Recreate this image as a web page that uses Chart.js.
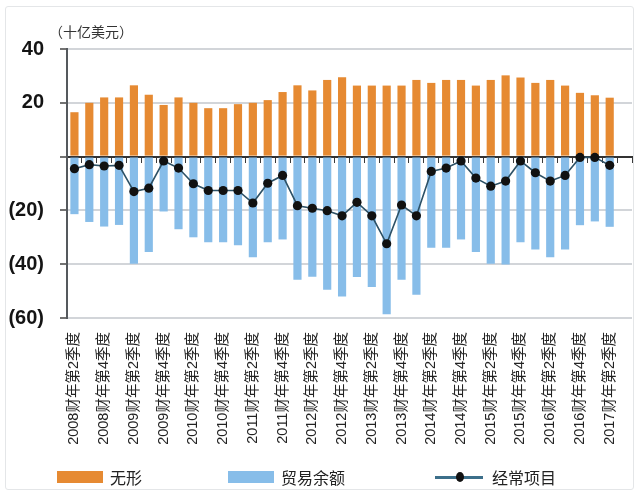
<!DOCTYPE html>
<html>
<head>
<meta charset="utf-8">
<script src="https://cdn.jsdelivr.net/npm/chart.js@4.4.1/dist/chart.umd.min.js"></script>
<style>
  html, body { margin: 0; padding: 0; background: #fff; }
  #wrap { position: relative; width: 638px; height: 496px; overflow: hidden; }
  #frame { position: absolute; left: 5px; top: 6px; width: 629px; height: 484px;
           border: 1.5px solid #e4e6e8; border-radius: 3px; box-sizing: border-box; }
  #chart { position: absolute; left: 0; top: 0; }
  #legend { position: absolute; left: 0; top: 465px; width: 638px; height: 24px;
            font: 16px "Noto Sans CJK SC", "Liberation Sans", sans-serif; color: #222; }
  .item { position: absolute; top: 0; height: 24px; display: flex; align-items: center; }
  .swatch { width: 46px; height: 12px; margin-right: 7px; }
  .lineicon { position: relative; width: 48px; height: 12px; margin-right: 9px; }
  .lineicon .ln { position: absolute; left: 0; right: 0; top: 5px; height: 2.5px; }
  .lineicon .dot { position: absolute; left: 21px; top: 1px; width: 8px; height: 10px; border-radius: 50%; }
</style>
</head>
<body>
<div id="wrap">
  <div id="frame"></div>
  <canvas id="chart" width="638" height="496"></canvas>
  <div id="legend"></div>
</div>
<script>
// Quarterly categories, FY2008 Q2 to FY2017 Q2 (one empty slot closes the axis)
const categories = [
  '2008财年第2季度','2008财年第3季度','2008财年第4季度','2009财年第1季度',
  '2009财年第2季度','2009财年第3季度','2009财年第4季度','2010财年第1季度',
  '2010财年第2季度','2010财年第3季度','2010财年第4季度','2011财年第1季度',
  '2011财年第2季度','2011财年第3季度','2011财年第4季度','2012财年第1季度',
  '2012财年第2季度','2012财年第3季度','2012财年第4季度','2013财年第1季度',
  '2013财年第2季度','2013财年第3季度','2013财年第4季度','2014财年第1季度',
  '2014财年第2季度','2014财年第3季度','2014财年第4季度','2015财年第1季度',
  '2015财年第2季度','2015财年第3季度','2015财年第4季度','2016财年第1季度',
  '2016财年第2季度','2016财年第3季度','2016财年第4季度','2017财年第1季度',
  '2017财年第2季度',''
];

// 无形 (intangibles), billions USD
const intangibles = [
  16.5, 20, 22, 22, 26.5, 23, 19.2, 22, 20, 18, 18, 19.5, 20, 21, 24, 26.5,
  24.6, 28.5, 29.5, 26.4, 26.4, 26.4, 26.4, 28.5, 27.4, 28.5, 28.5, 26.4, 28.5,
  30.2, 29.4, 27.4, 28.5, 26.4, 23.7, 22.8, 21.9
];

// 贸易余额 (trade balance)
const tradeBalance = [
  -21.4, -24.3, -26, -25.4, -39.8, -35.5, -20.4, -27, -30, -31.8, -31.8, -33,
  -37.4, -31.8, -30.8, -45.8, -44.7, -49.5, -52, -44.8, -48.5, -58.6, -45.8,
  -51.4, -33.9, -33.9, -30.8, -35.5, -39.8, -40.1, -31.8, -34.5, -37.4, -34.5,
  -25.5, -24.1, -26.1
];

// 经常项目 (current account)
const currentAccount = [
  -4.5, -3, -3.5, -3.25, -13, -11.75, -1.6, -4.25, -10.1, -12.6, -12.6, -12.6,
  -17.25, -9.9, -7, -18.25, -19.2, -20.1, -22, -17, -22, -32.4, -18, -22,
  -5.5, -4.25, -1.6, -8, -11, -9.1, -1.6, -6, -9.1, -7, -0.3, -0.3, -3.25
];

const yTicks = [40, 20, 0, -20, -40, -60];

const ORANGE = '#e68a32';
const BLUE = '#87bde9';
const LINE = '#2d5166';
const DOT = '#111111';

const fmtY = v => v > 0 ? String(v) : (v < 0 ? '(' + (-v) + ')' : '');

// unit caption above the value axis
const unitLabel = {
  id: 'unitLabel',
  afterDraw(chart) {
    const { ctx, chartArea } = chart;
    ctx.save();
    ctx.font = '14px "Noto Sans CJK SC", sans-serif';
    ctx.fillStyle = '#333';
    ctx.textBaseline = 'middle';
    ctx.textAlign = 'left';
    ctx.fillText('（十亿美元）', chartArea.left - 18, chartArea.top - 17);
    ctx.restore();
  }
};

const chart = new Chart(document.getElementById('chart'), {
  data: {
    labels: categories,
    datasets: [
      {
        type: 'bar', label: '无形', data: intangibles,
        backgroundColor: ORANGE, grouped: false,
        categoryPercentage: 1, barPercentage: 0.55, order: 2
      },
      {
        type: 'bar', label: '贸易余额', data: tradeBalance,
        backgroundColor: BLUE, grouped: false,
        categoryPercentage: 1, barPercentage: 0.55, order: 1
      },
      {
        type: 'line', label: '经常项目', data: currentAccount,
        borderColor: LINE, borderWidth: 1.6, tension: 0,
        pointRadius: 4.6, pointBackgroundColor: DOT, pointBorderColor: DOT,
        pointBorderWidth: 0, order: -1
      }
    ]
  },
  options: {
    responsive: false,
    animation: false,
    layout: { padding: { left: 0, top: 49, right: 6, bottom: 40 } },
    plugins: {
      legend: { display: false },
      tooltip: { enabled: false }
    },
    scales: {
      x: {
        type: 'category',
        offset: true,
        grid: { display: false, drawTicks: false, offset: true },
        border: { display: false },
        ticks: {
          autoSkip: false, maxRotation: 90, minRotation: 90, padding: 14,
          color: '#222',
          font: { family: '"Liberation Sans", "Noto Sans CJK SC", sans-serif', size: 14.5 },
          callback(value, index) { return index % 2 === 0 ? this.getLabelForValue(value) : ''; }
        },
        afterFit(scale) {
          scale.height = 138;
          // rotated labels sit inside the plot width; no extra side padding
          scale.paddingLeft = 0;
          scale.paddingRight = 0;
        }
      },
      x0: {
        type: 'category',
        position: { y: 0 },
        offset: true,
        z: 1,
        grid: {
          display: true, drawOnChartArea: false, drawTicks: true,
          tickLength: 5, color: '#3a3a3a', lineWidth: 1, offset: true
        },
        border: { display: true, color: '#333', width: 2 },
        ticks: { display: false }
      },
      y: {
        min: -60, max: 40,
        afterBuildTicks(scale) { scale.ticks = yTicks.map(v => ({ value: v })); },
        grid: {
          color: '#d2d5d9', lineWidth: 2, drawTicks: true,
          tickLength: 7, tickColor: '#444', tickWidth: 1.5
        },
        border: { display: true, color: '#55595d', width: 2 },
        ticks: {
          padding: 16, color: '#141414',
          font: { family: '"Liberation Sans", Arial, sans-serif', size: 20, weight: 'bold' },
          callback: v => fmtY(v)
        },
        afterFit(scale) { scale.width = 67; }
      }
    }
  },
  plugins: [unitLabel]
});

// legend built from the chart's own datasets
(function buildLegend() {
  const host = document.getElementById('legend');
  const lefts = [57, 228, 435];
  chart.data.datasets.forEach((ds, i) => {
    const item = document.createElement('div');
    item.className = 'item';
    item.style.left = lefts[i] + 'px';
    if (ds.type === 'line') {
      const icon = document.createElement('div');
      icon.className = 'lineicon';
      const ln = document.createElement('div');
      ln.className = 'ln'; ln.style.background = '#3c6f8a';
      const dot = document.createElement('div');
      dot.className = 'dot'; dot.style.background = ds.pointBackgroundColor;
      icon.appendChild(ln); icon.appendChild(dot);
      item.appendChild(icon);
    } else {
      const sw = document.createElement('div');
      sw.className = 'swatch'; sw.style.background = ds.backgroundColor;
      item.appendChild(sw);
    }
    const txt = document.createElement('span');
    txt.textContent = ds.label;
    item.appendChild(txt);
    host.appendChild(item);
  });
})();
</script>
</body>
</html>
